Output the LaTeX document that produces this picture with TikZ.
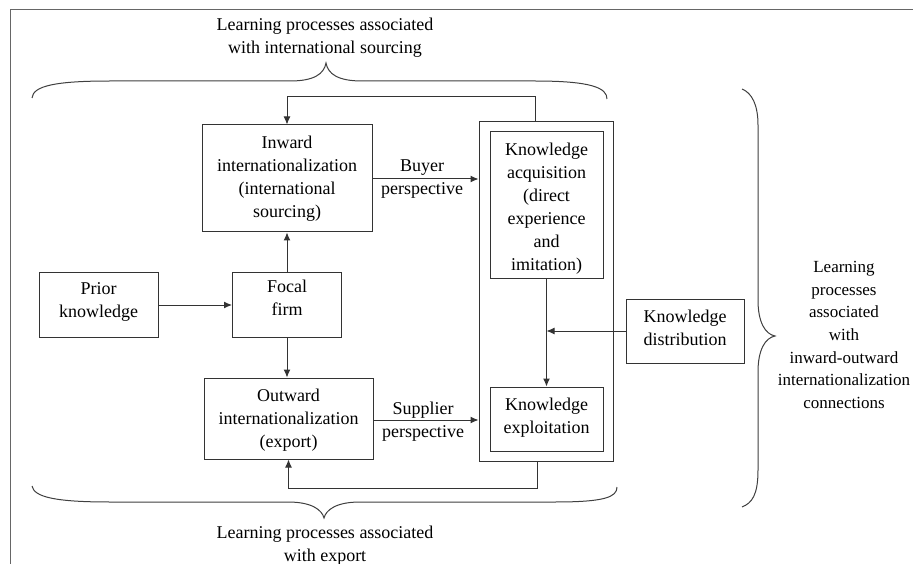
\documentclass[tikz,border=0pt]{standalone}
\usepackage{fontspec}
\setmainfont{Liberation Serif}
\usetikzlibrary{arrows.meta,calc}
\newcommand{\boxtxt}[2]{\raisebox{#1}[\height][\depth]{\begin{tabular}{@{}c@{}}#2\end{tabular}}}
\begin{document}
\begin{tikzpicture}[x=1pt,y=-1pt,
  every node/.style={font=\fontsize{18}{23}\selectfont, text=black},
  box/.style={draw=black!80, line width=1pt, align=center, inner sep=0pt},
  lbl/.style={align=center, inner sep=0pt},
  ln/.style={draw=black!80, line width=1pt},
  arr/.style={ln, -{Latex[length=8pt,width=7pt]}},
  brc/.style={draw=black!75, line width=1pt}
]
\useasboundingbox (0,0) rectangle (913,564);
\fill[white] (0,0) rectangle (913,564);
% frame
\draw[draw=black!60, line width=1pt] (10,564) -- (10,10) -- (913,10);

% boxes
\node[box, minimum width=170pt, minimum height=107pt] (inward) at (287,178.5)
  {\boxtxt{0pt}{Inward\\internationalization\\(international\\sourcing)}};
\node[box, minimum width=119pt, minimum height=65pt] (prior) at (98.5,305)
  {\boxtxt{3.5pt}{Prior\\knowledge}};
\node[box, minimum width=109pt, minimum height=65pt] (focal) at (287,304.5)
  {\boxtxt{5pt}{Focal\\firm}};
\node[box, minimum width=169pt, minimum height=81pt] (outward) at (288.5,418.5)
  {\boxtxt{-1.5pt}{Outward\\internationalization\\(export)}};
\node[box, minimum width=134pt, minimum height=339pt] (outer) at (546,291.5) {};
\node[box, minimum width=113pt, minimum height=146pt] (acq) at (546.5,205)
  {\boxtxt{-3pt}{Knowledge\\acquisition\\(direct\\experience\\and\\imitation)}};
\node[box, minimum width=113pt, minimum height=64pt] (expl) at (546.5,419)
  {\boxtxt{1.5pt}{Knowledge\\exploitation}};
\node[box, minimum width=118pt, minimum height=64pt] (dist) at (685,331)
  {\boxtxt{2pt}{Knowledge\\distribution}};

% labels
\node[lbl] (buyer) at (422,179) {Buyer\\perspective};
\node[lbl] (supplier) at (423,421.5) {Supplier\\perspective};
\node[lbl] (toplbl) at (325,38) {Learning processes associated\\with international sourcing};
\node[lbl] (botlbl) at (325,546) {Learning processes associated\\with export};
\node[lbl, font=\fontsize{17}{22.7}\selectfont] (rightlbl) at (844,335)
  {Learning\\processes\\associated\\with\\inward-outward\\internationalization\\connections};

% connectors
\draw[arr] (prior.east) -- (prior.east -| focal.west);
\draw[arr] (focal.north) -- (focal.north |- inward.south);
\draw[arr] (focal.south) -- (focal.south |- outward.north);
\draw[arr] (inward.east |- 0,179) -- (outer.west |- 0,179);
\draw[arr] (outward.east |- 0,420) -- (outer.west |- 0,420);
\draw[arr] (acq.south) -- (expl.north);
\draw[arr] (dist.west) -- (dist.west -| acq.south);
\coordinate (tl) at (535,97);
\draw[arr] (outer.north -| tl) -- (tl) -- (tl -| inward.north) -- (inward.north);
\coordinate (bl) at (537,488);
\draw[arr] (outer.south -| bl) -- (bl) -- (bl -| outward.south) -- (outward.south);

% braces
\draw[brc] (32,98) .. controls (33,86) and (55,81) .. (110,81) -- (290,81)
  .. controls (314,81) and (324,74) .. (326,63)
  .. controls (328,74) and (338,81) .. (362,81) -- (535,81)
  .. controls (592,81) and (607,88) .. (607,99);
\draw[brc] (32,486) .. controls (34,497) and (55,502) .. (110,502) -- (288,502)
  .. controls (312,502) and (322,510) .. (324,518)
  .. controls (326,510) and (336,502) .. (360,502) -- (555,502)
  .. controls (605,502) and (617,497) .. (617,487);
\draw[brc] (742,89) .. controls (752,93) and (758,105) .. (758,125) -- (758,300)
  .. controls (758,322) and (765,334) .. (775,336)
  .. controls (765,338) and (758,350) .. (758,372) -- (758,470)
  .. controls (758,495) and (752,503) .. (742,507);
\end{tikzpicture}
\end{document}
